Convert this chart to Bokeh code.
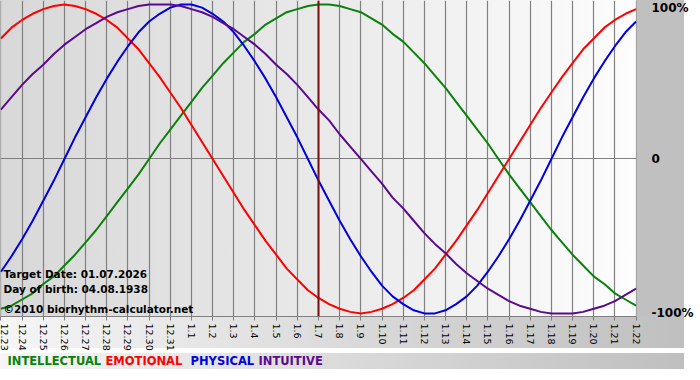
import math
from bokeh.plotting import figure
from bokeh.layouts import column
from bokeh.models import Range1d, FixedTicker, Span, Label
from bokeh.embed import file_html
from bokeh.resources import INLINE

# ---- data ----
dates = ["12.23", "12.24", "12.25", "12.26", "12.27", "12.28", "12.29", "12.30", "12.31",
         "1.1", "1.2", "1.3", "1.4", "1.5", "1.6", "1.7", "1.8", "1.9", "1.10", "1.11",
         "1.12", "1.13", "1.14", "1.15", "1.16", "1.17", "1.18", "1.19", "1.20", "1.21", "1.22"]

# curve values read every half day, from 12.23 (index 0) to 1.22 (index 30)
intellectual = [-0.97, -0.95, -0.91, -0.87, -0.81, -0.76, -0.69, -0.62, -0.54, -0.46,
                -0.37, -0.28, -0.19, -0.10, 0.00, 0.10, 0.19, 0.28, 0.37, 0.46,
                0.54, 0.62, 0.69, 0.76, 0.81, 0.87, 0.91, 0.95, 0.97, 0.99,
                1.00, 1.00, 0.99, 0.97, 0.95, 0.91, 0.87, 0.81, 0.76, 0.69,
                0.62, 0.54, 0.46, 0.37, 0.28, 0.19, 0.10, 0.00, -0.10, -0.19,
                -0.28, -0.37, -0.46, -0.54, -0.62, -0.69, -0.76, -0.81, -0.87, -0.91,
                -0.95]
emotional = [0.78, 0.85, 0.90, 0.94, 0.97, 0.99, 1.00, 0.99, 0.97, 0.94,
             0.90, 0.85, 0.78, 0.71, 0.62, 0.53, 0.43, 0.33, 0.22, 0.11,
             0.00, -0.11, -0.22, -0.33, -0.43, -0.53, -0.62, -0.71, -0.78, -0.85,
             -0.90, -0.94, -0.97, -0.99, -1.00, -0.99, -0.97, -0.94, -0.90, -0.85,
             -0.78, -0.71, -0.62, -0.53, -0.43, -0.33, -0.22, -0.11, 0.00, 0.11,
             0.22, 0.33, 0.43, 0.53, 0.62, 0.71, 0.78, 0.85, 0.90, 0.94,
             0.97]
physical = [-0.73, -0.63, -0.52, -0.40, -0.27, -0.14, 0.00, 0.14, 0.27, 0.40,
            0.52, 0.63, 0.73, 0.82, 0.89, 0.94, 0.98, 1.00, 1.00, 0.98,
            0.94, 0.89, 0.82, 0.73, 0.63, 0.52, 0.40, 0.27, 0.14, 0.00,
            -0.14, -0.27, -0.40, -0.52, -0.63, -0.73, -0.82, -0.89, -0.94, -0.98,
            -1.00, -1.00, -0.98, -0.94, -0.89, -0.82, -0.73, -0.63, -0.52, -0.40,
            -0.27, -0.14, 0.00, 0.14, 0.27, 0.40, 0.52, 0.63, 0.73, 0.82,
            0.89]
intuitive = [0.32, 0.40, 0.48, 0.55, 0.61, 0.68, 0.74, 0.79, 0.84, 0.88,
             0.92, 0.95, 0.97, 0.99, 1.00, 1.00, 1.00, 0.99, 0.97, 0.95,
             0.92, 0.88, 0.84, 0.79, 0.74, 0.68, 0.61, 0.55, 0.48, 0.40,
             0.32, 0.25, 0.16, 0.08, 0.00, -0.08, -0.16, -0.25, -0.32, -0.40,
             -0.48, -0.55, -0.61, -0.68, -0.74, -0.79, -0.84, -0.88, -0.92, -0.95,
             -0.97, -0.99, -1.00, -1.00, -1.00, -0.99, -0.97, -0.95, -0.92, -0.88,
             -0.84]

y_ticks = [-1, 0, 1]
y_tick_labels = ["-100%", "0", "100%"]

series_names = ["INTELLECTUAL", "EMOTIONAL", "PHYSICAL", "INTUITIVE"]
series_colors = ["#0b800b", "#ff0000", "#0000e0", "#5a0a8c"]

target_index = 15
target_date = "01.07.2026"
birth_date = "04.08.1938"
copyright_text = "\u00a92010 biorhythm-calculator.net"

days = list(range(len(dates)))
sample_days = [i / 2 for i in range(len(intellectual))]

FW, FH, RB, BB, LH = 636, 316, 48, 32, 16
W = FW + RB

p = figure(frame_width=FW, frame_height=FH,
           x_range=Range1d(-0.02, 30.02), y_range=Range1d(-1.02, 1.026),
           output_backend="svg", toolbar_location=None,
           y_axis_location="right",
           min_border_left=0, min_border_top=0,
           min_border_right=RB, min_border_bottom=BB)

p.background_fill_color = None
p.border_fill_color = None
p.outline_line_color = None
p.styles = {
    "background": (
        f"linear-gradient(to right, #d8d8d8, #e9e9e9 50%, #fdfdfd) 0 0 / {FW}px {FH}px no-repeat, "
        f"linear-gradient(#c0c0c0, #c0c0c0) {FW}px 0 / {RB}px {FH}px no-repeat, "
        f"linear-gradient(to right, #f6f6f6, #bfbfbf) 0 {FH}px / {W}px {BB}px no-repeat"
    )
}

# grid
p.xgrid.ticker = FixedTicker(ticks=days)
p.xgrid.grid_line_color = "#808080"
p.xgrid.grid_line_width = 1.2
p.ygrid.ticker = FixedTicker(ticks=[0])
p.ygrid.grid_line_color = "#808080"
p.ygrid.grid_line_width = 1.2

# x axis
p.xaxis.ticker = FixedTicker(ticks=days)
p.xaxis.major_label_overrides = {d: lbl for d, lbl in zip(days, dates)}
p.xaxis.major_label_orientation = -math.pi / 2
p.xaxis.major_label_text_font = "DejaVu Sans"
p.xaxis.major_label_text_font_size = "9.5px"
p.xaxis.major_label_text_color = "#000000"
p.xaxis.major_label_standoff = 3
p.xaxis.axis_line_color = "#808080"
p.xaxis.major_tick_line_color = "#808080"
p.xaxis.major_tick_in = 0
p.xaxis.major_tick_out = 4
p.xaxis.minor_tick_line_color = None

# y axis (right)
p.yaxis.ticker = FixedTicker(ticks=y_ticks)
p.yaxis.major_label_overrides = {t: l for t, l in zip(y_ticks, y_tick_labels)}
p.yaxis.major_label_text_font = "DejaVu Sans"
p.yaxis.major_label_text_font_style = "bold"
p.yaxis.major_label_text_font_size = "12px"
p.yaxis.major_label_text_color = "#000000"
p.yaxis.major_label_standoff = 9
p.yaxis.axis_line_color = None
p.yaxis.major_tick_line_color = None
p.yaxis.minor_tick_line_color = None

# curves
for vals, col in zip([intellectual, emotional, physical, intuitive], series_colors):
    p.line(sample_days, vals, line_color=col, line_width=2)

# target date line
p.add_layout(Span(location=days[target_index], dimension="height",
                  line_color="#7a1010", line_width=2))

# info texts
for txt, yy in [("Target Date: " + target_date, 43),
                ("Day of birth: " + birth_date, 28),
                (copyright_text, 8)]:
    p.add_layout(Label(x=3, y=yy, x_units="screen", y_units="screen", text=txt,
                       text_font="DejaVu Sans", text_font_style="bold",
                       text_font_size="10.5px", text_color="#000000",
                       text_baseline="middle"))

# legend strip below the chart
leg = figure(frame_width=W, frame_height=LH,
             x_range=Range1d(0, W), y_range=Range1d(0, LH),
             output_backend="svg", toolbar_location=None,
             min_border_left=0, min_border_right=0,
             min_border_top=0, min_border_bottom=0,
             x_axis_location=None, y_axis_location=None)
leg.grid.visible = False
leg.outline_line_color = None
leg.background_fill_color = None
leg.border_fill_color = None
leg.styles = {"background": "linear-gradient(to right, #f6f6f6, #bfbfbf)"}
leg.text(x=[7, 105, 190, 258], y=[LH / 2 + 1] * 4, text=series_names,
         text_color=series_colors, text_font_style="bold",
         text_font_size="11.5px", text_baseline="middle",
         text_font={"value": "DejaVu Sans"})

layout = column(p, leg, spacing=0)

with open("out.html", "w", encoding="utf-8") as f:
    f.write(file_html(layout, INLINE))
